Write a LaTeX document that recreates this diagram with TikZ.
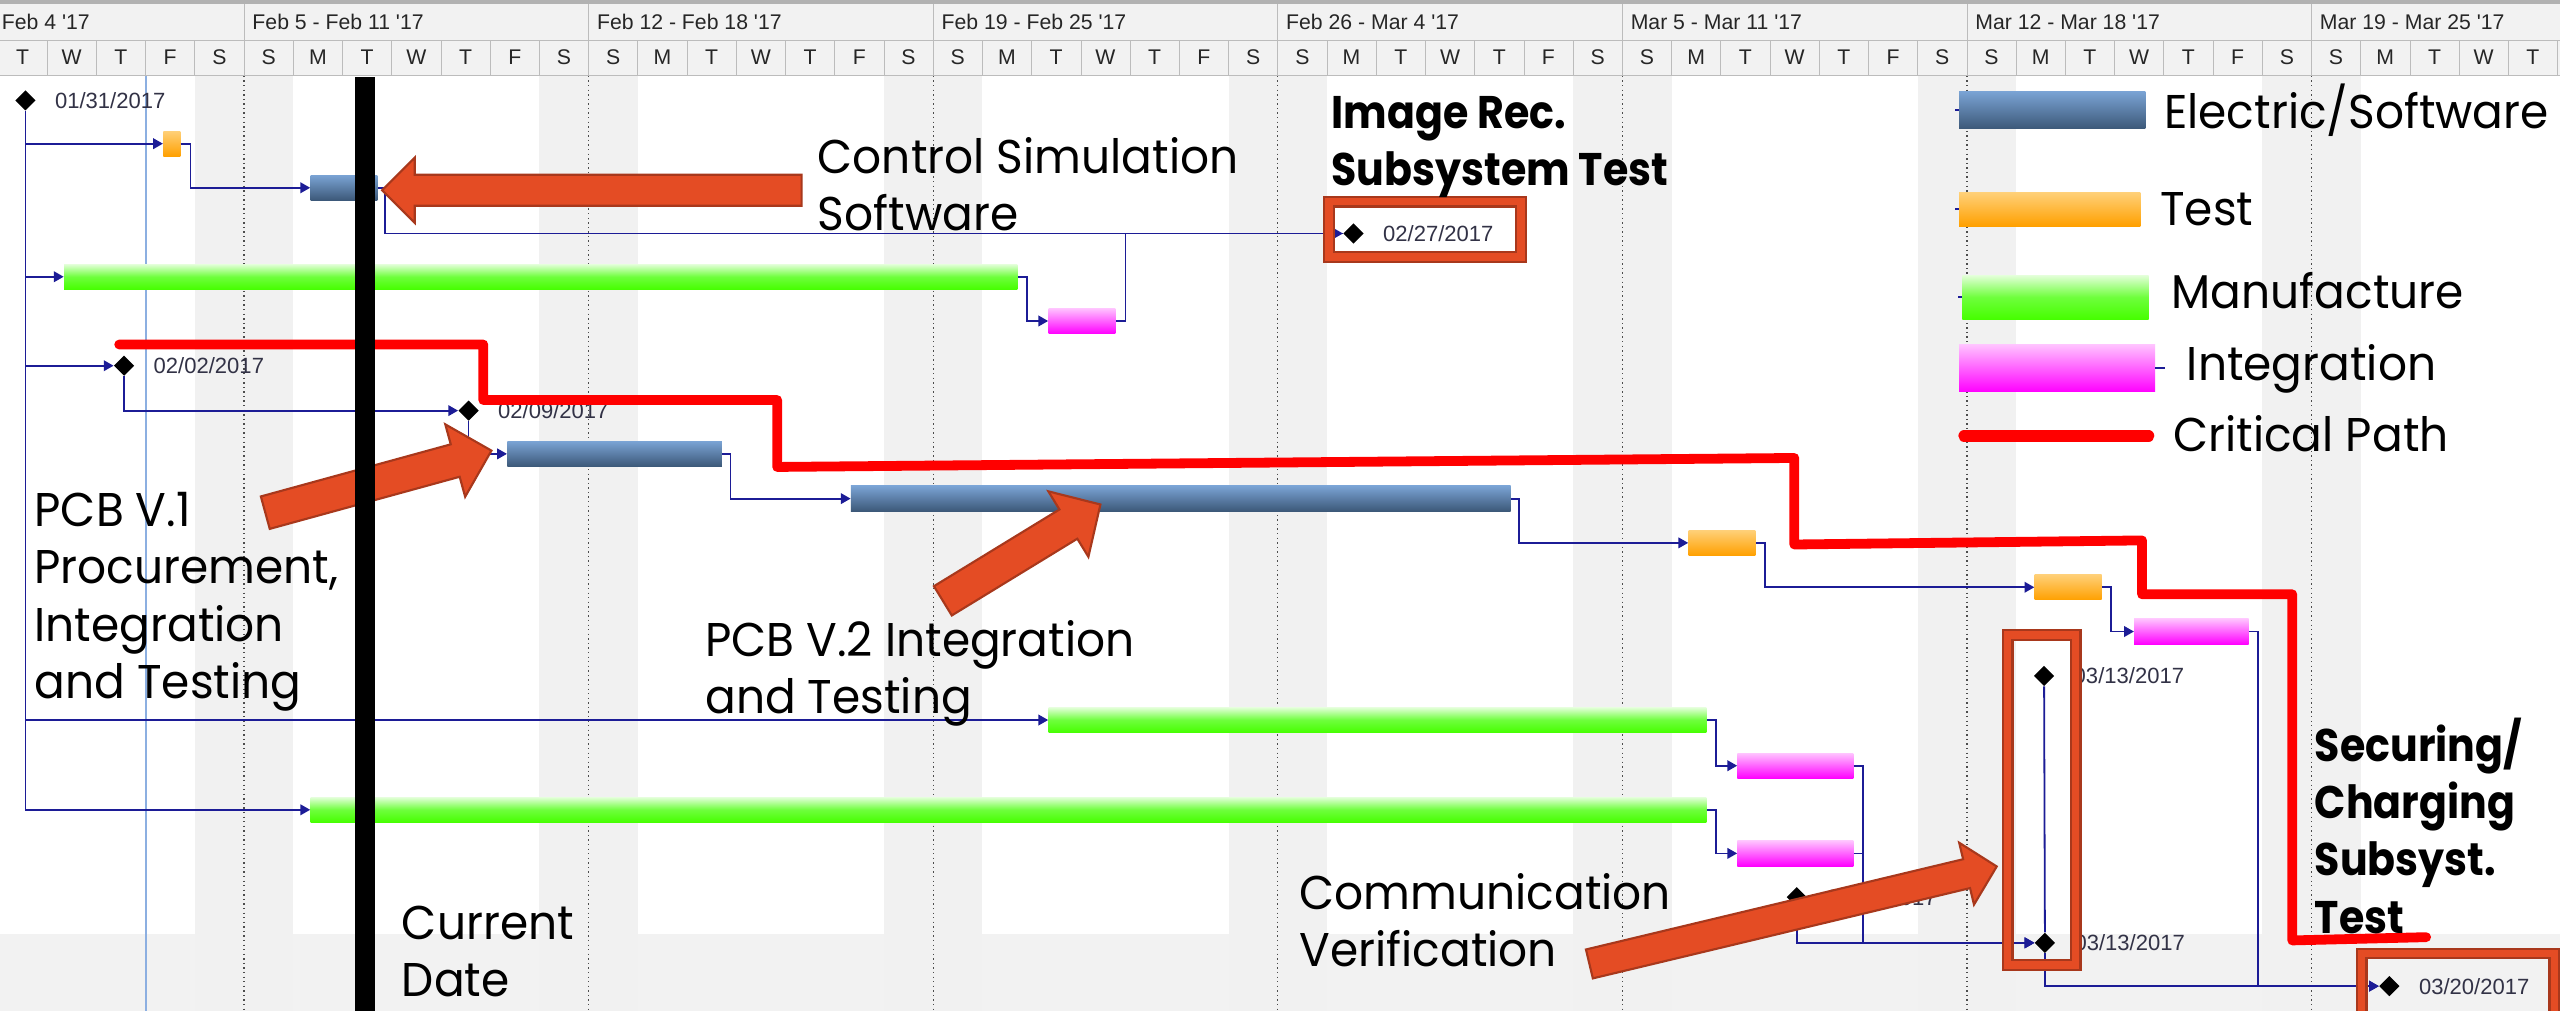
\documentclass[tikz,border=0pt]{standalone}
\usepackage{fontspec}
\setmainfont{Poppins}[FakeStretch=0.96]
\newfontfamily\projfont{Liberation Sans}
\newfontfamily\notebold{Poppins}[FakeStretch=0.9]
\usetikzlibrary{arrows.meta,calc,shapes.geometric}

\definecolor{linkblue}{RGB}{28,28,150}
\definecolor{elecTop}{RGB}{122,163,212}
\definecolor{elecBot}{RGB}{60,88,120}
\definecolor{testTop}{RGB}{255,208,120}
\definecolor{testBot}{RGB}{255,160,0}
\definecolor{manuTop}{RGB}{228,255,218}
\definecolor{manuMid}{RGB}{110,255,60}
\definecolor{manuBot}{RGB}{70,255,0}
\definecolor{integTop}{RGB}{255,195,255}
\definecolor{integBot}{RGB}{255,0,255}
\definecolor{calloutfill}{RGB}{228,76,36}
\definecolor{calloutdark}{RGB}{168,56,28}
\definecolor{headfill}{RGB}{242,242,242}
\definecolor{headline}{RGB}{188,188,188}
\definecolor{datetext}{RGB}{50,50,70}
\definecolor{todayline}{RGB}{140,175,225}

% fat call-out arrow: tail, tip, shaft half width, head half width, head length
\newcommand\callarrow[5]{%
  \path ($(#2)!#5!(#1)$) coordinate (cb);
  \filldraw[callout] ($(#1)!#3!90:(#2)$) -- ($(cb)!#3!-90:(#1)$) -- ($(cb)!#4!-90:(#1)$)
    -- (#2) -- ($(cb)!#4!90:(#1)$) -- ($(cb)!#3!90:(#1)$) -- ($(#1)!#3!-90:(#2)$) -- cycle;
}

\begin{document}
\begin{tikzpicture}[x=1pt, y=-1pt,
    bar/.style={rectangle, inner sep=0pt, minimum height=15.5pt, anchor=west},
    elec/.style={bar, top color=elecTop, bottom color=elecBot},
    test/.style={bar, top color=testTop, bottom color=testBot},
    manu/.style={bar, top color=manuTop, bottom color=manuBot, middle color=manuMid},
    integ/.style={bar, top color=integTop, bottom color=integBot},
    ms/.style={diamond, fill=black, inner sep=0pt, minimum size=12.5pt},
    datelbl/.style={anchor=west, inner sep=0pt, text=datetext, font=\projfont\fontsize{13.5}{13.5}\selectfont},
    weeklbl/.style={anchor=west, inner sep=0pt, text=black!85, font=\projfont\fontsize{13}{13}\selectfont},
    daylbl/.style={inner sep=0pt, text=black!85, font=\projfont\fontsize{13}{13}\selectfont},
    link/.style={draw=linkblue, line width=1.1pt, -{Triangle[length=6pt,width=6.5pt]}},
    wire/.style={draw=linkblue, line width=1.1pt},
    critical/.style={draw=red, line width=6pt, line cap=round, line join=round},
    hibox/.style={draw=calloutdark, double=calloutfill, double distance=4.5pt, line width=1.4pt},
    callout/.style={fill=calloutfill, draw=calloutdark, line width=1.3pt},
    note/.style={anchor=north west, inner sep=0pt, align=left, font=\fontsize{29}{35}\selectfont},
    bignote/.style={anchor=north west, inner sep=0pt, align=left, font=\notebold\bfseries\fontsize{28}{35}\selectfont},
    legend/.style={anchor=base west, inner sep=0pt, font=\fontsize{29}{35}\selectfont}]
  \useasboundingbox (0,0) rectangle (1568,619);
  \clip (0,0) rectangle (1568,619);
  \fill[white] (0,0) rectangle (1568,619);
  \fill[black!5] (0,572) rectangle (1568,619);

  % weekend columns
  \foreach \d in {4,11,...,46} {
    \fill[gray!11] ({-1.3+30.15*\d},46.5) rectangle ++(60.3,573);
    \draw[black!70, dotted, line width=0.8pt] ({-1.3+30.15*(\d+1)},46.5) -- ++(0,573);
  }
  \draw[todayline, line width=0.8pt] (89.4,46.5) -- (89.4,619);

  % timescale header
  \fill[gray!60] (0,0) rectangle (1568,2.5);
  \fill[headfill] (0,2.5) rectangle (1568,46);
  \draw[headline] (0,24.5) -- (1568,24.5) (0,46) -- (1568,46);
  \foreach \d in {1,...,52} {
    \draw[headline] ({-1.3+30.15*\d},24.5) -- ++(0,21.5);
  }
  \foreach \d in {5,12,...,47} {
    \draw[headline] ({-1.3+30.15*\d},2.5) -- ++(0,22);
  }
  \node[weeklbl] (wk) at (1,13.5) {Feb 4 '17};
  \foreach \t [count=\i from 0] in {Feb 5 - Feb 11 '17,Feb 12 - Feb 18 '17,Feb 19 - Feb 25 '17,Feb 26 - Mar 4 '17,Mar 5 - Mar 11 '17,Mar 12 - Mar 18 '17,Mar 19 - Mar 25 '17} {
    \node[weeklbl] (wk\i) at ({-1.3+30.15*(5+7*\i)+5},13.5) {\t};
  }
  \foreach \w in {0,...,7} {
    \foreach \l [count=\k from 0] in {T,W,T,F,S,S,M} {
      \pgfmathtruncatemacro\d{7*\w+\k}
      \ifnum\d<52 \node[daylbl] (day\d) at ({-1.3+30.15*(\d+0.5)},35.3) {\l};\fi
    }
  }

  % tasks
  \node[ms] (m0) at (15.6,61.5) {};
  \node[test, minimum width=10.5pt] (b1) at (99.8,88) {};
  \node[elec, minimum width=41pt] (b2) at (190,115) {};
  \node[ms] (m3) at (829,143) {};
  \node[manu, minimum width=584pt] (b4) at (39,169.5) {};
  \node[integ, minimum width=41pt] (b5) at (642,196.6) {};
  \node[ms] (m6) at (76,224) {};
  \node[ms] (m7) at (287,251.5) {};
  \node[elec, minimum width=131.5pt] (b8) at (310.5,278) {};
  \node[elec, minimum width=404pt] (b9) at (521,305.4) {};
  \node[test, minimum width=41pt] (b10) at (1034,332.5) {};
  \node[test, minimum width=41pt] (b11) at (1246,359.7) {};
  \node[integ, minimum width=70pt] (b12) at (1307,386.8) {};
  \node[ms] (m13) at (1252,414) {};
  \node[manu, minimum width=403pt] (b14) at (642,441) {};
  \node[integ, minimum width=71pt] (b15) at (1064,469) {};
  \node[manu, minimum width=855pt] (b16) at (190,496) {};
  \node[integ, minimum width=71pt] (b17) at (1064,522.7) {};
  \node[ms] (m18) at (1100.5,549.5) {};
  \node[ms] (m19) at (1252.5,577.5) {};
  \node[ms] (m20) at (1463.5,604) {};

  % links
  \draw[link] (m0.south) |- (b16.west);
  \draw[link] (m0.south |- b1.west) -- (b1.west);
  \draw[link] (m0.south |- b4.west) -- (b4.west);
  \draw[link] (m0.south |- m6.west) -- (m6.west);
  \draw[link] (m0.south |- b14.west) -- (b14.west);
  \draw[link] (b1.east) -- ++(6,0) |- (b2.west);
  \draw[link] (b2.east) -- ++(4.6,0) |- (m3.west);
  \draw[link] (b4.east) -- ++(5.5,0) |- (b5.west);
  \draw[wire] (b5.east) -- ++(6,0) |- (m3.west);
  \draw[link] (m6.south) |- (m7.west);
  \draw[link] (m7.south) |- (b8.west);
  \draw[link] (b8.east) -- ++(5,0) |- (b9.west);
  \draw[link] (b9.east) -- ++(5,0) |- (b10.west);
  \draw[link] (b10.east) -- ++(5.5,0) |- (b11.west);
  \draw[link] (b11.east) -- ++(5.5,0) |- (b12.west);
  \draw[link] (b12.east) -- ++(5.7,0) |- (m20.west);
  \draw[link] (b14.east) -- ++(5.5,0) |- (b15.west);
  \draw[link] (b16.east) -- ++(5.5,0) |- (b17.west);
  \draw[link] (b15.east) -- ++(5.7,0) |- (m19.west);
  \draw[link] (b17.east) -- ++(5.7,0) |- (m19.west);
  \draw[link] (m18.south) |- (m19.west);
  \draw[wire] (m13.south) -- (m19.north);
  \draw[link] (m19.south) |- (m20.west);

  % milestone dates
  \node[datelbl] (d0) at ([xshift=11.5pt]m0.east) {01/31/2017};
  \node[datelbl] (d3) at ([xshift=11.5pt]m3.east) {02/27/2017};
  \node[datelbl] (d6) at ([xshift=11.5pt]m6.east) {02/02/2017};
  \node[datelbl] (d7) at ([xshift=11.5pt]m7.east) {02/09/2017};
  \node[datelbl] (d13) at ([xshift=11.5pt]m13.east) {03/13/2017};
  \node[datelbl] (d18) at ([xshift=11.5pt]m18.east) {03/08/2017};
  \node[datelbl] (d19) at ([xshift=11.5pt]m19.east) {03/13/2017};
  \node[datelbl] (d20) at ([xshift=11.5pt]m20.east) {03/20/2017};

  % legend
  \node[elec, anchor=center, minimum width=114pt, minimum height=23pt] (lgElec) at (1257,67.5) {};
  \node[test, anchor=center, minimum width=111pt, minimum height=20.5pt] (lgTest) at (1255.5,128.2) {};
  \node[manu, anchor=center, minimum width=114pt, minimum height=27pt] (lgManu) at (1259,182) {};
  \node[integ, anchor=center, minimum width=120pt, minimum height=29pt] (lgInteg) at (1260,225.5) {};
  \draw[wire] (lgElec.west) -- ++(-2.5,0);
  \draw[wire] (lgTest.west) -- ++(-2.5,0);
  \draw[wire] (lgManu.west) -- ++(-2.5,0);
  \draw[wire] (lgInteg.east) -- ++(6,0);
  \draw[critical, line width=7pt] (1203,267) -- (1316,267);
  \node[legend] (tElec) at (1325.4,78.6) {Electric/Software};
  \node[legend] (tTest) at (1323,138.2) {Test};
  \node[legend] (tManu) at (1330,188.7) {Manufacture};
  \node[legend] (tInteg) at (1339.3,233) {Integration};
  \node[legend] (tCrit) at (1331,276.6) {Critical Path};

  % critical path
  \draw[critical] (73,211) -- (296,211) -- (296,245) -- (476,245) -- (476,286) -- (1099,280.5)
    -- (1099,333.5) -- (1312,331) -- (1312,364) -- (1404,364) -- (1404,576) -- (1486,574);

  % highlight boxes
  \draw[hibox] (814,123.5) rectangle (931.5,157.5);
  \draw[hibox] (1229.7,389) rectangle (1271.4,591);
  \draw[hibox] (1446.5,584) rectangle (1564.5,630);

  % call-out arrows
  \coordinate (csTail) at (491,116.5);
  \coordinate (csTip) at (234,116.5);
  \coordinate (p1Tail) at (162.5,314);
  \coordinate (p1Tip) at (301,276);
  \coordinate (p2Tail) at (577.5,368);
  \coordinate (p2Tip) at (674,309);
  \coordinate (cvTail) at (973.5,590.4);
  \coordinate (cvTip) at (1223,530.7);
  \callarrow{csTail}{csTip}{9.5pt}{20pt}{20pt}
  \callarrow{p1Tail}{p1Tip}{10.3pt}{23pt}{23pt}
  \callarrow{p2Tail}{p2Tip}{10.5pt}{23.5pt}{23pt}
  \callarrow{cvTail}{cvTip}{9.1pt}{19.5pt}{19pt}

  % current date
  \fill[black] (217.5,47) rectangle (229.5,619);

  % notes
  \node[note] (nCtrl) at (500.7,84) {Control Simulation\\Software};
  \node[bignote] (nImg) at (815.4,58.6) {Image Rec.\\Subsystem Test};
  \node[note] (nPcb1) at (21,301.5) {PCB V.1\\Procurement,\\Integration\\and Testing};
  \node[note] (nPcb2) at (431.8,379.7) {PCB V.2 Integration\\and Testing};
  \node[note] (nDate) at (246,554.7) {Current\\Date};
  \node[note] (nComm) at (795.8,534.5) {Communication\\Verification};
  \node[bignote] (nSec) at (1417.6,439.7) {Securing/\\Charging\\Subsyst.\\Test};
\end{tikzpicture}
\end{document}
